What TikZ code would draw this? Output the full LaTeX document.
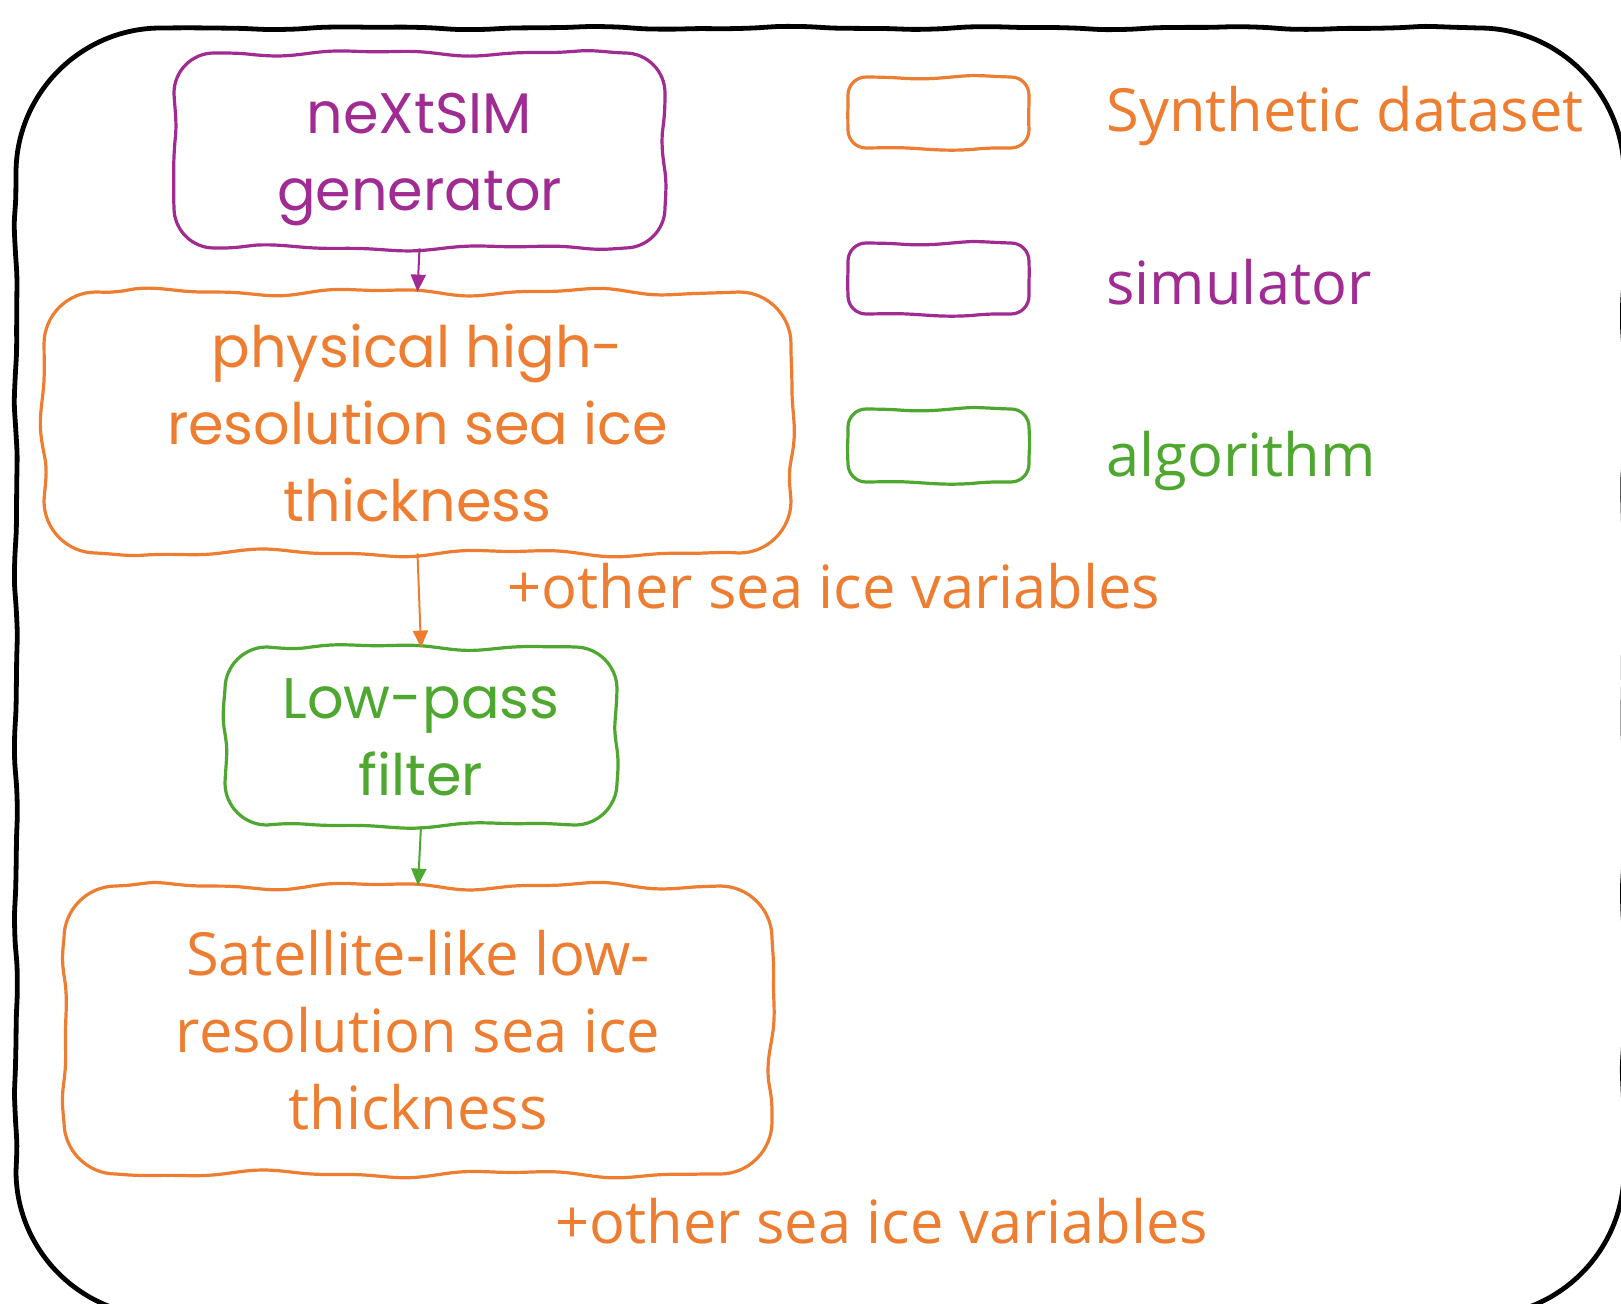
\documentclass[tikz,border=0pt]{standalone}
\usepackage{fontspec}
\usetikzlibrary{arrows.meta}
\newfontfamily\handfont{Poppins}
\newfontfamily\plainfont{Open Sans}
\definecolor{dsorange}{HTML}{ED7D31}
\definecolor{simpurple}{HTML}{A02B93}
\definecolor{alggreen}{HTML}{4EA72E}

% Hand-drawn rounded box: #1 draw options, (#2,#3) top-left, (#4,#5) bottom-right,
% #6 corner radius, #7 wobble amplitude (all in picture units)
\newcommand{\wobblebox}[7]{%
  \pgfmathsetmacro\wbL{#2+#6}\pgfmathsetmacro\wbR{#4-#6}%
  \pgfmathsetmacro\wbT{#3+#6}\pgfmathsetmacro\wbB{#5-#6}%
  \draw[#1]
    plot[smooth,variable=\t,domain=\wbL:\wbR,samples=50]
      (\t,{#3+#7*min(1,(\t-\wbL)/40,(\wbR-\t)/40)*(sin(1.7*\t)+0.45*sin(3.9*\t+70))})
    .. controls ({#4-0.45*#6},#3) and (#4,{#3+0.45*#6}) .. (#4,\wbT)
    -- plot[smooth,variable=\t,domain=\wbT:\wbB,samples=40]
      ({#4+#7*min(1,(\t-\wbT)/40,(\wbB-\t)/40)*(sin(1.9*\t+25)+0.45*sin(4.3*\t))},\t)
    .. controls (#4,{#5-0.45*#6}) and ({#4-0.45*#6},#5) .. (\wbR,#5)
    -- plot[smooth,variable=\t,domain=\wbL:\wbR,samples=50]
      ({\wbL+\wbR-\t},{#5+#7*min(1,(\t-\wbL)/40,(\wbR-\t)/40)*(sin(1.5*\t+140)+0.45*sin(3.6*\t))})
    .. controls ({#2+0.45*#6},#5) and (#2,{#5-0.45*#6}) .. (#2,\wbB)
    -- plot[smooth,variable=\t,domain=\wbT:\wbB,samples=40]
      ({#2+#7*min(1,(\t-\wbT)/40,(\wbB-\t)/40)*(sin(2.1*\t+80)+0.45*sin(4.1*\t+10))},{\wbT+\wbB-\t})
    .. controls (#2,{#3+0.45*#6}) and ({#2+0.45*#6},#3) .. (\wbL,#3) -- cycle;
}

\tikzset{
  boxarea/.style 2 args={minimum width={#1*0.5pt}, minimum height={#2*0.5pt},
    inner sep=0pt, align=center},
  handtext/.style={font=\handfont\fontsize{28.6}{38.5}\selectfont},
  plaintext/.style={font=\plainfont\fontsize{29.8}{38.5}\selectfont},
  boxline/.style={line width=1.6pt, line join=round},
  flowarrow/.style={-{Triangle[length=8.5pt,width=7.5pt]}, line width=1pt},
}

\begin{document}
\begin{tikzpicture}[x=0.5pt,y=-0.5pt]
  \useasboundingbox (0,0) rectangle (1621,1304);
  \clip (0,0) rectangle (1621,1304);
  \fill[white] (0,0) rectangle (1621,1304);

  % outer frame
  \wobblebox{black, line width=2.4pt}{16}{28}{1624}{1316}{145}{1.2}

  % flow boxes
  \node[boxarea={491}{195}] (gen) at (419.5,150.5) {};
  \node[handtext, text=simpurple, align=center, inner sep=0pt] (gentext) at (419.5,160)
    {neXtSIM\\generator};
  \wobblebox{simpurple, boxline}{174}{53}{665}{248}{40}{2.2}

  \node[boxarea={747}{261}, handtext, text=dsorange] (phys) at (417.5,422.5)
    {physical high-\\resolution sea ice\\thickness};
  \wobblebox{dsorange, boxline}{44}{292}{791}{553}{52}{2.8}

  \node[boxarea={392}{178}, handtext, text=alggreen] (filt) at (421,737) {Low-pass\\filter};
  \wobblebox{alggreen, boxline}{225}{647}{617}{825}{42}{2.4}

  \node[boxarea={708}{288}, plaintext, text=dsorange] (sat) at (418,1030)
    {Satellite-like low-\\resolution sea ice\\thickness};
  \wobblebox{dsorange, boxline}{64}{886}{772}{1174}{52}{2.8}

  % side notes
  \node[anchor=base west, plaintext, text=dsorange, inner sep=0pt] (note1) at (507,608)
    {+other sea ice variables};
  \node[anchor=base west, plaintext, text=dsorange, inner sep=0pt] (note2) at (555,1243)
    {+other sea ice variables};

  % connectors
  \draw[flowarrow, simpurple] (gen.south) -- (phys.north);
  \draw[flowarrow, dsorange] (phys.south) -- (filt.north);
  \draw[flowarrow, alggreen] (filt.south) -- (sat.north);

  % legend
  \node[boxarea={181}{71}] (keyds) at (938.5,112.5) {};
  \wobblebox{dsorange, boxline}{848}{77}{1029}{148}{18}{1.5}
  \node[boxarea={181}{71}] (keysim) at (938.5,279) {};
  \wobblebox{simpurple, boxline}{848}{243}{1029}{314}{18}{1.5}
  \node[boxarea={181}{74}] (keyalg) at (938.5,445.5) {};
  \wobblebox{alggreen, boxline}{848}{409}{1029}{482}{18}{1.5}

  \node[anchor=base west, plaintext, text=dsorange, inner sep=0pt] (labds) at (1106,132) {Synthetic dataset};
  \node[anchor=base west, plaintext, text=simpurple, inner sep=0pt] (labsim) at (1106,305) {simulator};
  \node[anchor=base west, plaintext, text=alggreen, inner sep=0pt] (labalg) at (1106,477) {algorithm};
\end{tikzpicture}
\end{document}
